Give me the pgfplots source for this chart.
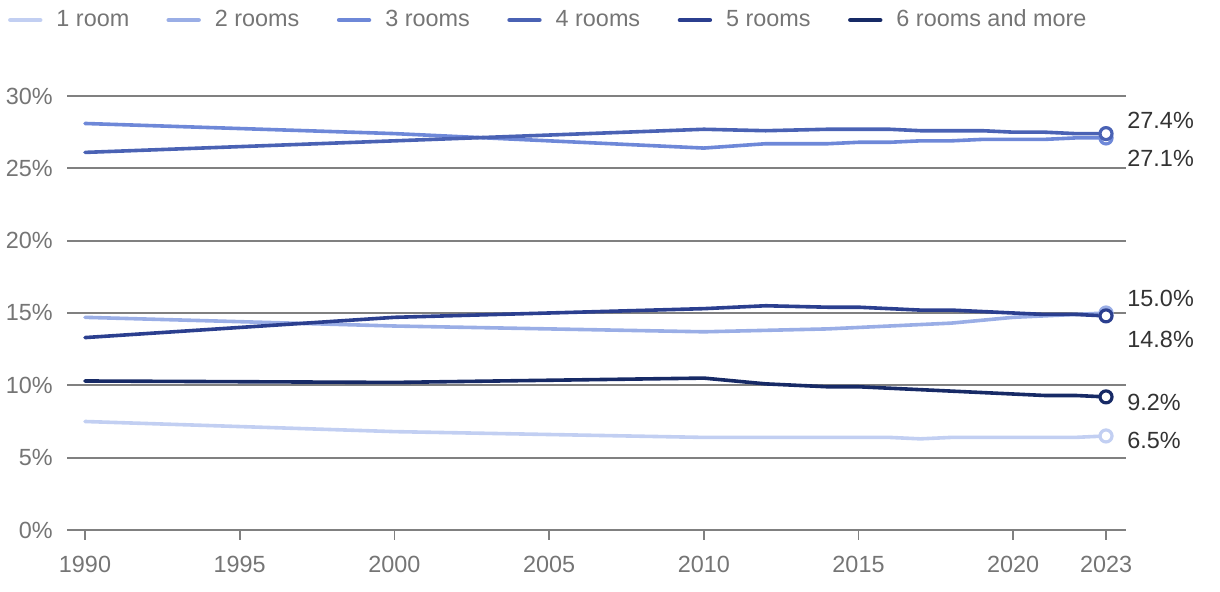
\documentclass[border=0pt]{standalone}
\usepackage{fontspec}
\setmainfont{Liberation Sans}
\usepackage{pgfplots}
\pgfplotsset{compat=1.18}
\definecolor{c1}{HTML}{C2CFF2}
\definecolor{c2}{HTML}{9AAEE6}
\definecolor{c3}{HTML}{6E88D8}
\definecolor{c4}{HTML}{4A62B4}
\definecolor{c5}{HTML}{2B3F8F}
\definecolor{c6}{HTML}{172A66}
\definecolor{tickgray}{HTML}{757575}
\definecolor{gridgray}{HTML}{808080}
\definecolor{labgray}{HTML}{333333}

\pgfplotstableread{
year r1 r2 r3 r4 r5 r6
1990 7.5 14.7 28.1 26.1 13.3 10.3
2000 6.8 14.1 27.4 26.9 14.7 10.2
2010 6.4 13.7 26.4 27.7 15.3 10.5
2012 6.4 13.8 26.7 27.6 15.5 10.1
2014 6.4 13.9 26.7 27.7 15.4 9.9
2015 6.4 14.0 26.8 27.7 15.4 9.9
2016 6.4 14.1 26.8 27.7 15.3 9.8
2017 6.3 14.2 26.9 27.6 15.2 9.7
2018 6.4 14.3 26.9 27.6 15.2 9.6
2019 6.4 14.5 27.0 27.6 15.1 9.5
2020 6.4 14.7 27.0 27.5 15.0 9.4
2021 6.4 14.8 27.0 27.5 14.9 9.3
2022 6.4 14.9 27.1 27.4 14.9 9.3
2023 6.5 15.0 27.1 27.4 14.8 9.2
}\datatable

\begin{document}
\fontsize{11.7pt}{14pt}\selectfont
\begin{tikzpicture}[x=1pt,y=1pt]
\useasboundingbox (0,0) rectangle (610,296);
\begin{axis}[
  at={(33.5pt,31pt)}, anchor=south west,
  scale only axis, width=529.5pt, height=217pt,
  xmin=1989.418, xmax=2023.646, ymin=0, ymax=30,
  clip=false,
  axis line style={draw=none},
  ymajorgrids, grid style={gridgray, line width=1pt},
  ytick={0,5,...,30},
  xtick={1990,1995,2000,2005,2010,2015,2020,2023},
  tick align=outside, major tick length=5pt,
  xtick pos=lower, ytick pos=left,
  ytick style={draw=none},
  xtick style={gridgray, line width=0.8pt},
  /pgf/number format/assume math mode=true,
  yticklabel={\pgfmathprintnumber{\tick}\%},
  yticklabel style={font=\fontsize{11.7pt}{14pt}\selectfont, text=tickgray, xshift=2pt},
  xticklabel style={font=\fontsize{11.7pt}{14pt}\selectfont, text=tickgray, /pgf/number format/1000 sep={}, yshift=-4pt},
  legend style={at={(rel axis cs:-0.056,1.175)}, anchor=west, draw=none, fill=none,
    font=\fontsize{11.7pt}{14pt}\selectfont, text=tickgray, inner sep=0pt,
    /tikz/every even column/.append style={column sep=0pt}},
  legend columns=6,
  legend cell align=left,
  legend image code/.code={\draw[line width=2.2pt, line cap=round] (0pt,0pt) -- (15pt,0pt);},
  every axis plot/.append style={line width=1.8pt, line cap=round, line join=round},
]
\addplot[c1, no marks] table[x=year,y=r1]{\datatable};
\addlegendentry{\makebox[58pt][l]{\hspace{5pt}1 room}}
\addplot[c2, no marks] table[x=year,y=r2]{\datatable};
\addlegendentry{\makebox[64pt][l]{\hspace{5pt}2 rooms}}
\addplot[c3, no marks] table[x=year,y=r3]{\datatable};
\addlegendentry{\makebox[64pt][l]{\hspace{5pt}3 rooms}}
\addplot[c4, no marks] table[x=year,y=r4]{\datatable};
\addlegendentry{\makebox[64pt][l]{\hspace{5pt}4 rooms}}
\addplot[c5, no marks] table[x=year,y=r5]{\datatable};
\addlegendentry{\makebox[64pt][l]{\hspace{5pt}5 rooms}}
\addplot[c6, no marks] table[x=year,y=r6]{\datatable};
\addlegendentry{\hspace{5pt}6 rooms and more}

\addplot[forget plot, only marks, mark=*, mark size=3pt, mark options={draw=c1, fill=white, line width=1.6pt}] coordinates {(2023,6.5)};
\addplot[forget plot, only marks, mark=*, mark size=3pt, mark options={draw=c2, fill=white, line width=1.6pt}] coordinates {(2023,15.0)};
\addplot[forget plot, only marks, mark=*, mark size=3pt, mark options={draw=c3, fill=white, line width=1.6pt}] coordinates {(2023,27.1)};
\addplot[forget plot, only marks, mark=*, mark size=3pt, mark options={draw=c4, fill=white, line width=1.6pt}] coordinates {(2023,27.4)};
\addplot[forget plot, only marks, mark=*, mark size=3pt, mark options={draw=c5, fill=white, line width=1.6pt}] coordinates {(2023,14.8)};
\addplot[forget plot, only marks, mark=*, mark size=3pt, mark options={draw=c6, fill=white, line width=1.6pt}] coordinates {(2023,9.2)};

\begin{scope}[every node/.style={anchor=west, inner sep=0pt, text=labgray, font=\fontsize{11.7pt}{14pt}\selectfont}]
\node at (axis cs:2023.68,28.3) {27.4\%};
\node at (axis cs:2023.68,25.7) {27.1\%};
\node at (axis cs:2023.68,16.0) {15.0\%};
\node at (axis cs:2023.68,13.2) {14.8\%};
\node at (axis cs:2023.68,8.8) {9.2\%};
\node at (axis cs:2023.68,6.2) {6.5\%};
\end{scope}
\end{axis}
\end{tikzpicture}
\end{document}
